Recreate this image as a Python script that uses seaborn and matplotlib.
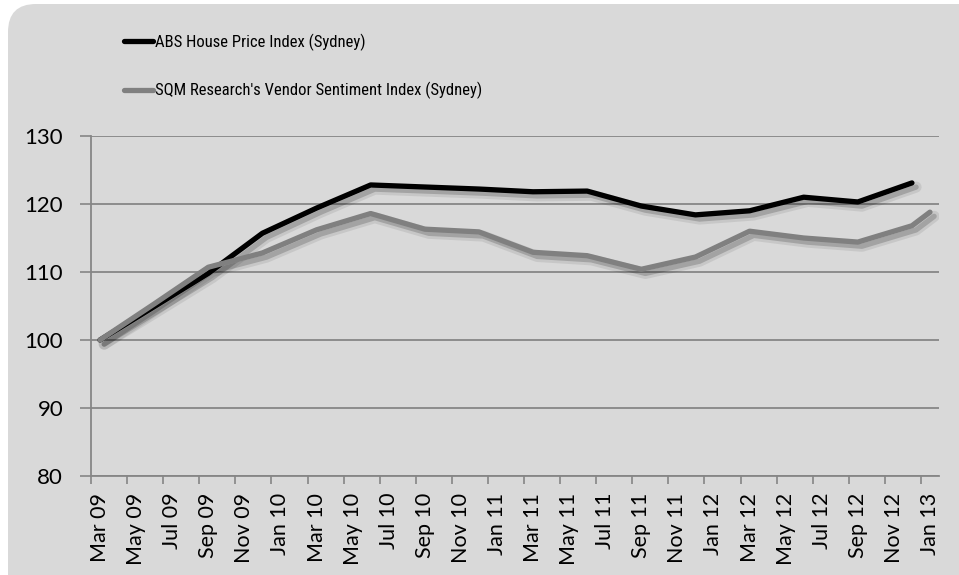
import numpy as np
import pandas as pd
import matplotlib
matplotlib.use("Agg")
import matplotlib.pyplot as plt
import matplotlib.patheffects as pe
from matplotlib.lines import Line2D
from matplotlib.patches import FancyBboxPatch
import seaborn as sns

# quarterly readings, index = 100 at Mar 09
abs_months = ["2009-03", "2009-06", "2009-09", "2009-12", "2010-03", "2010-06",
              "2010-09", "2010-12", "2011-03", "2011-06", "2011-09", "2011-12",
              "2012-03", "2012-06", "2012-09", "2012-12"]
abs_index = [100.0, 104.9, 109.8, 115.7, 119.4, 122.8, 122.5, 122.2,
             121.8, 121.9, 119.7, 118.4, 119.0, 121.0, 120.3, 123.1]

sqm_months = abs_months + ["2013-01"]
sqm_index = [100.0, 105.3, 110.7, 112.8, 116.2, 118.6, 116.3, 115.9,
             112.9, 112.4, 110.4, 112.2, 116.0, 115.0, 114.4, 116.8, 118.8]

tick_labels = ["Mar 09", "May 09", "Jul 09", "Sep 09", "Nov 09", "Jan 10",
               "Mar 10", "May 10", "Jul 10", "Sep 10", "Nov 10", "Jan 11",
               "Mar 11", "May 11", "Jul 11", "Sep 11", "Nov 11", "Jan 12",
               "Mar 12", "May 12", "Jul 12", "Sep 12", "Nov 12", "Jan 13"]

ABS_NAME = "ABS House Price Index (Sydney)"
SQM_NAME = "SQM Research's Vendor Sentiment Index (Sydney)"

start = pd.Period("2009-03", "M")


def month_pos(months):
    # centre of each month on a month-based axis
    return [(pd.Period(m, "M") - start).n + 0.5 for m in months]


df = pd.concat([
    pd.DataFrame({"x": month_pos(abs_months), "value": abs_index, "series": ABS_NAME}),
    pd.DataFrame({"x": month_pos(sqm_months), "value": sqm_index, "series": SQM_NAME}),
])

sns.set_style("ticks")
plt.rcParams["font.family"] = ["Lato", "DejaVu Sans"]
plt.rcParams["text.color"] = "black"
plt.rcParams["xtick.labelcolor"] = "black"
plt.rcParams["ytick.labelcolor"] = "black"

grid_col = "#868686"
bg = "#d9d9d9"
colors = {ABS_NAME: "#000000", SQM_NAME: "#808080"}

fig = plt.figure(figsize=(9.59, 5.75), dpi=100, facecolor="white")
panel = FancyBboxPatch((0.08, -0.4), 10.0, 6.11,
                       boxstyle="round,pad=0,rounding_size=0.28",
                       transform=fig.dpi_scale_trans, facecolor=bg,
                       edgecolor="none", zorder=-5)
fig.patches.append(panel)

ax = fig.add_axes([91 / 959, 1 - 476 / 575, 848 / 959, 340 / 575])
ax.set_facecolor("none")
ax.set_zorder(2)

sns.lineplot(data=df, x="x", y="value", hue="series", palette=colors,
             linewidth=3.8, sort=False, legend=False, ax=ax)

for line in ax.lines:
    line.set_solid_capstyle("round")
    line.set_solid_joinstyle("round")
    line.set_path_effects([
        pe.SimpleLineShadow(offset=(3, -3), shadow_color="black", alpha=0.08, linewidth=8),
        pe.SimpleLineShadow(offset=(3, -3), shadow_color="black", alpha=0.18),
        pe.Normal(),
    ])

ax.set_xlim(0, 47)
ax.set_ylim(80, 130)
ax.set_yticks(range(80, 131, 10))
ax.set_xticks(range(0, 47, 2))
ax.set_xticklabels([""] * len(range(0, 47, 2)))
ax.set_xticks(np.arange(0, 47, 2) + 0.5, minor=True)
ax.set_xticklabels(tick_labels, minor=True, rotation=90, va="top", fontsize=15.5)
ax.tick_params(axis="x", which="major", length=6, width=1.2, color=grid_col)
ax.tick_params(axis="x", which="minor", length=0, pad=12)
ax.tick_params(axis="y", length=8, width=1.2, color=grid_col, pad=12, labelsize=16)

ax.yaxis.grid(True, color=grid_col, linewidth=1.3)
ax.xaxis.grid(False)
ax.set_axisbelow(True)
for side in ["top", "right"]:
    ax.spines[side].set_visible(False)
for side in ["left", "bottom"]:
    ax.spines[side].set_color(grid_col)
    ax.spines[side].set_linewidth(1.3)
ax.set_xlabel("")
ax.set_ylabel("")

handles = [Line2D([], [], color=colors[ABS_NAME], lw=3.8),
           Line2D([], [], color=colors[SQM_NAME], lw=3.8)]
leg = fig.legend(handles, [ABS_NAME, SQM_NAME], loc="center left",
                 bbox_to_anchor=(124 / 959, 1 - 66.5 / 575), frameon=False,
                 prop={"family": ["Roboto Condensed", "Liberation Sans Narrow", "Roboto"],
                       "size": 12},
                 handlelength=1.75, handletextpad=0.1, labelspacing=1.85,
                 borderpad=0, borderaxespad=0)
for t in leg.get_texts():
    t.set_color("black")

fig.savefig("out.png", dpi=100, facecolor="white")
